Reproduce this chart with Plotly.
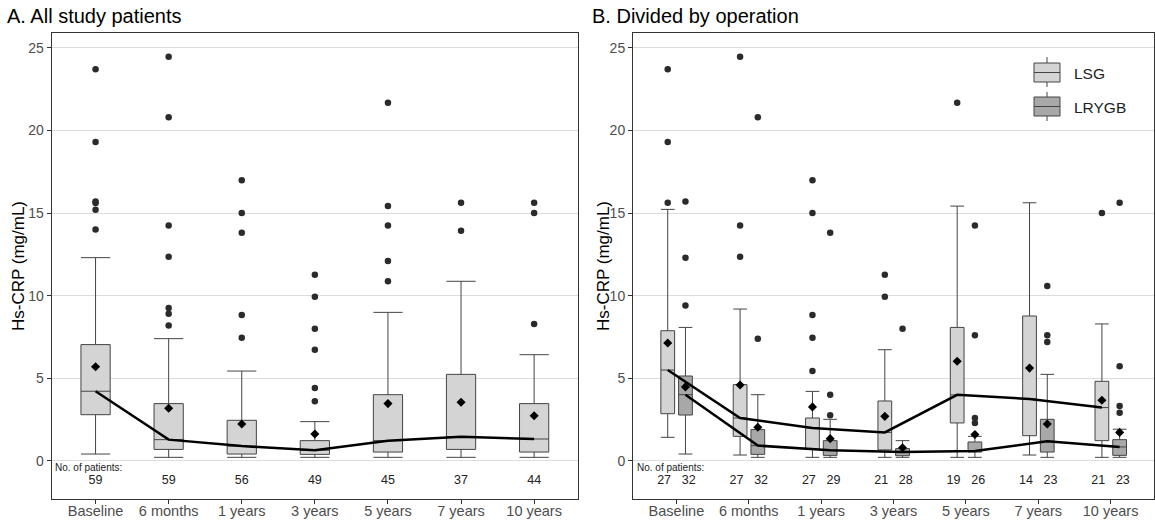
import plotly.graph_objects as go
from plotly.subplots import make_subplots

categories = ["Baseline", "6 months", "1 years", "3 years", "5 years", "7 years", "10 years"]

# Panel A: all study patients
all_q1 = [2.80, 0.70, 0.42, 0.40, 0.54, 0.70, 0.54]
all_med = [4.22, 1.29, 0.90, 0.65, 1.23, 1.47, 1.33]
all_q3 = [7.04, 3.47, 2.46, 1.23, 4.01, 5.24, 3.47]
all_lo = [0.42, 0.22, 0.22, 0.22, 0.22, 0.22, 0.22]
all_hi = [12.3, 7.4, 5.44, 2.38, 8.99, 10.87, 6.43]
all_mean = [5.70, 3.19, 2.24, 1.63, 3.47, 3.55, 2.74]
all_out = [[23.7, 19.3, 15.7, 15.6, 15.2, 14.0],
           [24.45, 20.8, 14.25, 12.36, 9.25, 8.9, 8.2],
           [16.98, 15.0, 13.8, 8.83, 7.46],
           [11.27, 9.94, 8.0, 6.73, 4.42, 3.61],
           [21.67, 15.42, 14.25, 12.1, 10.87],
           [15.62, 13.93],
           [15.62, 15.0, 8.29]]
all_n = [59, 59, 56, 49, 45, 37, 44]

# Panel B: LSG
lsg_q1 = [2.86, 1.49, 0.70, 0.67, 2.30, 1.53, 1.23]
lsg_med = [5.50, 2.60, 2.00, 1.73, 4.00, 3.75, 3.23]
lsg_q3 = [7.88, 4.62, 2.60, 3.63, 8.08, 8.77, 4.82]
lsg_lo = [1.43, 0.36, 0.22, 0.22, 0.22, 0.36, 0.22]
lsg_hi = [15.22, 9.19, 4.21, 6.73, 15.42, 15.62, 8.29]
lsg_mean = [7.14, 4.60, 3.27, 2.70, 6.03, 5.62, 3.67]
lsg_out = [[23.7, 19.3, 15.62], [24.45, 14.25, 12.36], [16.98, 15.0, 8.83, 7.46, 5.44],
           [11.27, 9.94], [21.67], [], [15.0]]
lsg_n = [27, 27, 27, 21, 19, 14, 21]

# Panel B: LRYGB
lr_q1 = [2.78, 0.40, 0.34, 0.32, 0.54, 0.54, 0.34]
lr_med = [4.01, 0.93, 0.65, 0.54, 0.60, 1.19, 0.85]
lr_q3 = [5.14, 1.90, 1.23, 0.75, 1.15, 2.52, 1.29]
lr_lo = [0.42, 0.22, 0.22, 0.22, 0.22, 0.22, 0.22]
lr_hi = [8.08, 4.01, 2.52, 1.23, 1.49, 5.24, 1.92]
lr_mean = [4.48, 2.04, 1.35, 0.80, 1.60, 2.24, 1.73]
lr_out = [[15.7, 12.3, 9.4], [20.8, 7.4], [13.8, 4.01, 2.76], [8.0],
          [14.25, 7.6, 2.6, 2.3], [10.58, 7.6, 7.2], [15.62, 5.73, 3.33, 2.92]]
lr_n = [32, 32, 29, 28, 26, 23, 23]

FONT = "Liberation Sans, Arial, sans-serif"
LIGHT = "#d4d4d4"
DARK = "#a8a8a8"
EDGE = "#444444"
PT = "#2b2b2b"

fig = make_subplots(rows=1, cols=2)


def add_group(col, pos, q1, med, q3, lo, hi, mean, outs, fill, width):
    fig.add_trace(go.Box(x=pos, q1=q1, median=med, q3=q3, lowerfence=lo, upperfence=hi,
                         width=width, whiskerwidth=1, fillcolor=fill,
                         line=dict(color=EDGE, width=1), boxpoints=False,
                         showlegend=False, hoverinfo="skip"), row=1, col=col)
    ox, oy = [], []
    for p, vals in zip(pos, outs):
        for v in vals:
            ox.append(p)
            oy.append(v)
    fig.add_trace(go.Scatter(x=ox, y=oy, mode="markers",
                             marker=dict(color=PT, size=6.5), showlegend=False), row=1, col=col)
    return pos


idx = list(range(len(categories)))

# Panel A
add_group(1, idx, all_q1, all_med, all_q3, all_lo, all_hi, all_mean, all_out, LIGHT, 0.40)
fig.add_trace(go.Scatter(x=idx, y=all_med, mode="lines", line=dict(color="black", width=2.5),
                         showlegend=False), row=1, col=1)
fig.add_trace(go.Scatter(x=idx, y=all_mean, mode="markers",
                         marker=dict(symbol="diamond", color="black", size=7), showlegend=False),
              row=1, col=1)

# Panel B
pos_l = [i - 0.12 for i in idx]
pos_r = [i + 0.125 for i in idx]
add_group(2, pos_l, lsg_q1, lsg_med, lsg_q3, lsg_lo, lsg_hi, lsg_mean, lsg_out, LIGHT, 0.19)
add_group(2, pos_r, lr_q1, lr_med, lr_q3, lr_lo, lr_hi, lr_mean, lr_out, DARK, 0.19)
fig.add_trace(go.Scatter(x=pos_l, y=lsg_med, mode="lines", line=dict(color="black", width=2.5),
                         showlegend=False), row=1, col=2)
fig.add_trace(go.Scatter(x=pos_r, y=lr_med, mode="lines", line=dict(color="black", width=2.5),
                         showlegend=False), row=1, col=2)
fig.add_trace(go.Scatter(x=pos_l + pos_r, y=lsg_mean + lr_mean, mode="markers",
                         marker=dict(symbol="diamond", color="black", size=7), showlegend=False),
              row=1, col=2)

# patient counts
fig.add_trace(go.Scatter(x=idx, y=[-1.2] * 7, mode="text", text=[str(n) for n in all_n],
                         textfont=dict(family=FONT, size=12.5, color="#222"), showlegend=False),
              row=1, col=1)
fig.add_trace(go.Scatter(x=[i - 0.17 for i in idx] + [i + 0.17 for i in idx], y=[-1.2] * 14,
                         mode="text", text=[str(n) for n in lsg_n + lr_n],
                         textfont=dict(family=FONT, size=12.5, color="#222"), showlegend=False),
              row=1, col=2)

W, H = 1155, 526
xd1 = [51.7 / W, 578 / W]
xd2 = [633 / W, 1154 / W]
yd = [1 - 499 / H, 1 - 33 / H]

axis_common = dict(range=[-0.6, 6.6], tickvals=idx, ticktext=categories, showgrid=False,
                   zeroline=False, ticks="outside", ticklen=4, tickcolor="#333",
                   ticklabelstandoff=-5,
                   tickfont=dict(family=FONT, size=14.5, color="#4d4d4d"),
                   showline=True, linecolor="#333", linewidth=1, mirror=True, automargin=False)
yaxis_common = dict(range=[-2.3, 25.89], tickvals=[0, 5, 10, 15, 20, 25], showgrid=True,
                    gridcolor="#dcdcdc", gridwidth=1, zeroline=False, ticks="outside",
                    ticklen=4, tickcolor="#333",
                    tickfont=dict(family=FONT, size=14, color="#4d4d4d"),
                    showline=True, linecolor="#333", linewidth=1, mirror=True, automargin=False)

fig.update_layout(
    width=W, height=H, margin=dict(l=0, r=0, t=0, b=0),
    plot_bgcolor="white", paper_bgcolor="white",
    xaxis=dict(domain=xd1, **axis_common),
    xaxis2=dict(domain=xd2, **axis_common),
    yaxis=dict(domain=yd, **yaxis_common),
    yaxis2=dict(domain=yd, **yaxis_common),
    font=dict(family=FONT),
)

ann = []
ann.append(dict(text="A. All study patients", x=5 / W, y=1 - 16 / H, xref="paper", yref="paper",
                xanchor="left", yanchor="middle", showarrow=False,
                font=dict(family=FONT, size=20, color="black")))
ann.append(dict(text="B. Divided by operation", x=590 / W, y=1 - 16 / H, xref="paper",
                yref="paper", xanchor="left", yanchor="middle", showarrow=False,
                font=dict(family=FONT, size=20, color="black")))
for xp in (18, 603):
    ann.append(dict(text="Hs-CRP (mg/mL)", x=xp / W, y=1 - 266 / H, xref="paper", yref="paper",
                    xanchor="center", yanchor="middle", textangle=-90, showarrow=False,
                    font=dict(family=FONT, size=17, color="black")))
for xp in (53, 635):
    ann.append(dict(text="No. of patients:", x=xp / W, y=1 - 468 / H, xref="paper", yref="paper",
                    xanchor="left", yanchor="middle", showarrow=False,
                    font=dict(family=FONT, size=10, color="#222")))
# legend text
ann.append(dict(text="LSG", x=1072 / W, y=1 - 73 / H, xref="paper", yref="paper",
                xanchor="left", yanchor="middle", showarrow=False,
                font=dict(family=FONT, size=15.5, color="#222")))
ann.append(dict(text="LRYGB", x=1072 / W, y=1 - 107 / H, xref="paper", yref="paper",
                xanchor="left", yanchor="middle", showarrow=False,
                font=dict(family=FONT, size=15.5, color="#222")))
fig.update_layout(annotations=ann)

# legend keys (decoration)
shapes = []
for (top, bot, wt, wb, fill) in [(63, 82, 57, 87, LIGHT), (97, 116, 92, 121, DARK)]:
    xc = 1047
    shapes.append(dict(type="line", xref="paper", yref="paper", x0=xc / W, x1=xc / W,
                       y0=1 - wt / H, y1=1 - wb / H, line=dict(color=EDGE, width=1)))
    shapes.append(dict(type="rect", xref="paper", yref="paper", x0=1034 / W, x1=1060 / W,
                       y0=1 - top / H, y1=1 - bot / H, fillcolor=fill,
                       line=dict(color=EDGE, width=1)))
    mid = (top + bot) / 2
    shapes.append(dict(type="line", xref="paper", yref="paper", x0=1034 / W, x1=1060 / W,
                       y0=1 - mid / H, y1=1 - mid / H, line=dict(color=EDGE, width=1)))
fig.update_layout(shapes=shapes)

fig.write_html("out.html", config={"displayModeBar": False},
               post_script="document.body.style.margin='0';document.body.style.overflow='hidden';")
